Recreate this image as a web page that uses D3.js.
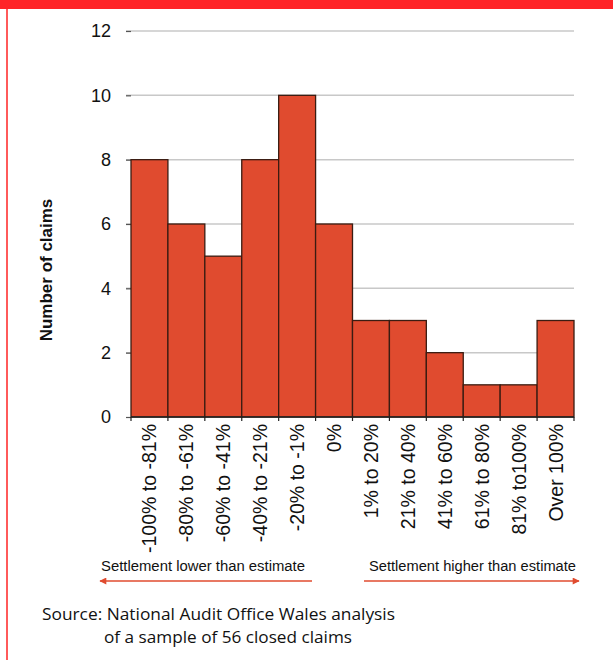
<!DOCTYPE html>
<html>
<head>
<meta charset="utf-8">
<script src="https://cdn.jsdelivr.net/npm/d3@7"></script>
<style>
  html, body { margin: 0; padding: 0; background: #fff; }
  svg { display: block; }
</style>
</head>
<body>
<svg id="chart" width="613" height="660"></svg>
<script>
// Settlement vs. estimate bands and number of claims in each
const categories = ["-100% to -81%", "-80% to -61%", "-60% to -41%", "-40% to -21%",
  "-20% to -1%", "0%", "1% to 20%", "21% to 40%", "41% to 60%", "61% to 80%",
  "81% to100%", "Over 100%"];
const claims = [8, 6, 5, 8, 10, 6, 3, 3, 2, 1, 1, 3];
const yTicks = [0, 2, 4, 6, 8, 10, 12];

const svg = d3.select("#chart");
const plot = { left: 131, right: 574, top: 31, bottom: 417 };

// Frame: red band along the top and a thin rule on the left
svg.append("rect").attr("x", 0).attr("y", 0).attr("width", 613).attr("height", 9).attr("fill", "#ff2428");
svg.append("rect").attr("x", 6).attr("y", 9).attr("width", 2).attr("height", 651).attr("fill", "#ff5a5a");

const x = d3.scaleBand().domain(categories).range([plot.left, plot.right]).padding(0);
const y = d3.scaleLinear().domain([0, 12]).range([plot.bottom, plot.top]);

// Horizontal gridlines
svg.append("g")
  .selectAll("line")
  .data(yTicks.filter(t => t > 0))
  .join("line")
  .attr("x1", plot.left - 5).attr("x2", plot.right)
  .attr("y1", d => y(d)).attr("y2", d => y(d))
  .attr("stroke", "#c8c8c8").attr("stroke-width", 1.5);

// Y axis ticks and labels
const yAxis = svg.append("g")
  .attr("transform", `translate(${plot.left},0)`)
  .call(d3.axisLeft(y).tickValues(yTicks).tickSize(5).tickPadding(15));
yAxis.select(".domain").remove();
yAxis.selectAll(".tick line").attr("stroke", "#555").attr("stroke-width", 1.2);
yAxis.selectAll(".tick text")
  .attr("font-family", "'Liberation Sans', Arial, sans-serif")
  .attr("font-size", 18).attr("fill", "#111");

// Bars
svg.append("g")
  .selectAll("rect")
  .data(claims)
  .join("rect")
  .attr("x", (d, i) => x(categories[i]))
  .attr("y", d => y(d))
  .attr("width", x.bandwidth())
  .attr("height", d => y(0) - y(d))
  .attr("fill", "#e04b2f")
  .attr("stroke", "#3a1c12")
  .attr("stroke-width", 1.3);

// X axis: baseline, ticks at band edges, rotated category labels
const xg = svg.append("g");
xg.append("line")
  .attr("x1", plot.left).attr("x2", plot.right)
  .attr("y1", y(0)).attr("y2", y(0))
  .attr("stroke", "#222").attr("stroke-width", 1.5);
xg.selectAll("line.edge")
  .data(categories.concat([null]))
  .join("line")
  .attr("class", "edge")
  .attr("x1", (d, i) => plot.left + i * x.bandwidth())
  .attr("x2", (d, i) => plot.left + i * x.bandwidth())
  .attr("y1", y(0)).attr("y2", y(0) + 4)
  .attr("stroke", "#222").attr("stroke-width", 1.2);
xg.selectAll("text")
  .data(categories)
  .join("text")
  .attr("transform", d => `translate(${x(d) + x.bandwidth() / 2},${y(0) + 7}) rotate(-90)`)
  .attr("text-anchor", "end")
  .attr("dy", "0.36em")
  .attr("font-family", "'Liberation Sans', Arial, sans-serif")
  .attr("font-size", 19.5)
  .attr("fill", "#111")
  .text(d => d);

// Y axis title
svg.append("text")
  .attr("transform", `translate(52,${(plot.top + plot.bottom) / 2 + 46}) rotate(-90)`)
  .attr("text-anchor", "middle")
  .attr("font-family", "'Liberation Sans', Arial, sans-serif")
  .attr("font-weight", "bold")
  .attr("font-size", 17)
  .attr("fill", "#111")
  .text("Number of claims");

// Direction annotations with arrows
const arrowColor = "#e04b2f";
svg.append("defs").append("marker")
  .attr("id", "head")
  .attr("viewBox", "0 0 10 10")
  .attr("refX", 9).attr("refY", 5)
  .attr("markerWidth", 8).attr("markerHeight", 7)
  .attr("markerUnits", "userSpaceOnUse")
  .attr("orient", "auto")
  .append("path").attr("d", "M0,0 L10,5 L0,10 Z").attr("fill", arrowColor);

const notes = [
  { text: "Settlement lower than estimate", x0: 312, x1: 100, tx: 101, tw: 204 },
  { text: "Settlement higher than estimate", x0: 364, x1: 579, tx: 369, tw: 207 }
];
notes.forEach(n => {
  svg.append("text")
    .attr("x", n.tx).attr("y", 571)
    .attr("font-family", "'Liberation Sans', Arial, sans-serif")
    .attr("font-size", 14)
    .attr("textLength", n.tw).attr("lengthAdjust", "spacingAndGlyphs")
    .attr("fill", "#111")
    .text(n.text);
  svg.append("line")
    .attr("x1", n.x0).attr("x2", n.x1)
    .attr("y1", 581).attr("y2", 581)
    .attr("stroke", arrowColor).attr("stroke-width", 1.5)
    .attr("marker-end", "url(#head)");
});

// Source note
const src = svg.append("g")
  .attr("font-family", "'Open Sans', 'Noto Sans', sans-serif")
  .attr("font-size", 16.5)
  .attr("lengthAdjust", "spacingAndGlyphs")
  .attr("fill", "#111");
src.append("text").attr("x", 42).attr("y", 620)
  .attr("textLength", 353).attr("lengthAdjust", "spacingAndGlyphs")
  .text("Source: National Audit Office Wales analysis");
src.append("text").attr("x", 104).attr("y", 643)
  .attr("textLength", 248).attr("lengthAdjust", "spacingAndGlyphs")
  .text("of a sample of 56 closed claims");
</script>
</body>
</html>
